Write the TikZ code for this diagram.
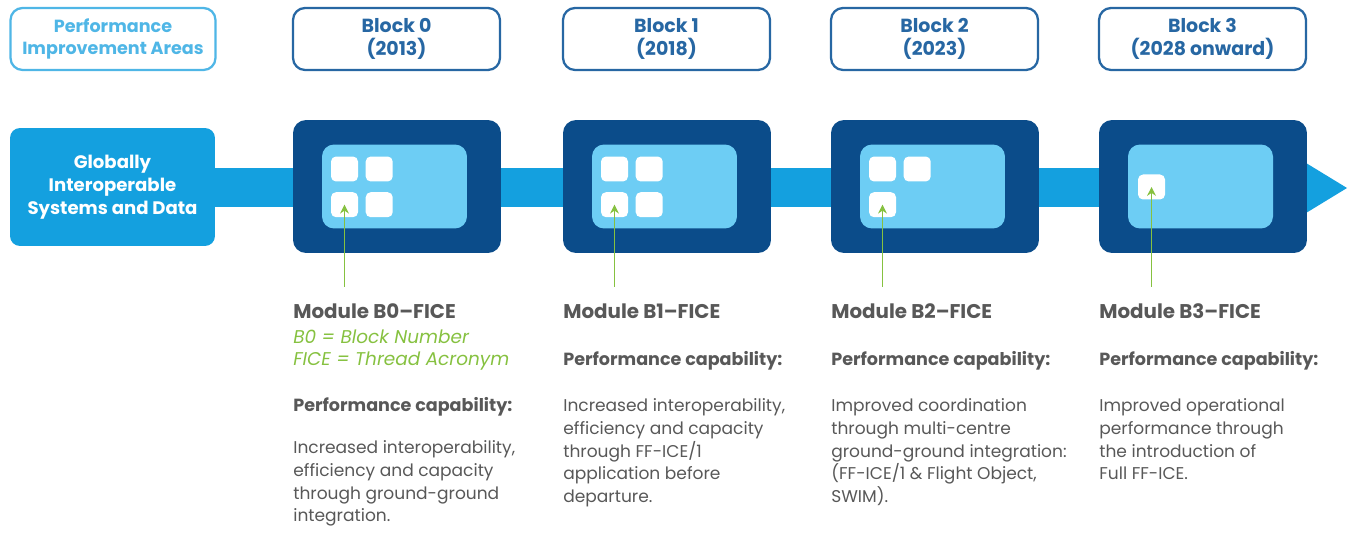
\documentclass[tikz,border=0pt]{standalone}
\usepackage{fontspec}
\setmainfont{Poppins}
\usetikzlibrary{arrows.meta,positioning,calc}

\definecolor{navyblk}{HTML}{0B4C8A}
\definecolor{bandblue}{HTML}{14A0DF}
\definecolor{skyblue}{HTML}{6DCDF4}
\definecolor{paleline}{HTML}{4FB6E6}
\definecolor{blkline}{HTML}{2767A3}
\definecolor{leaf}{HTML}{86C140}
\definecolor{inkgray}{HTML}{585858}

\begin{document}
\begin{tikzpicture}[x=0.02cm,y=-0.02cm]
\tikzset{
     areabox/.style={draw=paleline, line width=1.3pt, rounded corners=0.24cm,
        minimum width=4.1cm, minimum height=1.24cm, align=center, text=paleline,
        font=\bfseries\fontsize{10}{13}\selectfont},
     yearbox/.style={areabox, draw=blkline, text=blkline, minimum width=4.14cm,
        font=\bfseries\fontsize{10.8}{13}\selectfont},
     sysbox/.style={fill=bandblue, rounded corners=0.2cm, minimum width=4.1cm,
        minimum height=2.36cm, align=center, text=white,
        font=\bfseries\fontsize{10.3}{13.2}\selectfont},
     darkbox/.style={fill=navyblk, rounded corners=0.26cm, minimum width=4.16cm,
        minimum height=2.66cm},
     innerbox/.style={fill=skyblue, rounded corners=0.24cm, minimum width=2.9cm,
        minimum height=1.68cm},
     cell/.style={fill=white, rounded corners=0.1cm, minimum width=0.54cm,
        minimum height=0.5cm, inner sep=0pt},
     modhead/.style={inner sep=0pt, anchor=base west, text=inkgray,
        font=\bfseries\fontsize{11.3}{13}\selectfont},
     perfcap/.style={modhead, font=\bfseries\fontsize{10}{13}\selectfont},
     modnote/.style={inner sep=0pt, anchor=north west, align=left, text=leaf,
        font=\itshape\fontsize{10.5}{13}\selectfont},
     modbody/.style={inner sep=0pt, anchor=north west, align=left, text=inkgray,
        font=\fontsize{9.7}{13}\selectfont},
     pointer/.style={draw=leaf, line width=0.9pt, -{Stealth[length=5pt,width=5pt]}}}

% The band with its arrow head
\fill[bandblue] (200,168) rectangle (1306,207);
\fill[bandblue] (1306,163) -- (1347,188) -- (1306,213) -- cycle;

% The header boxes
\node (area) [areabox] at (113,39) {Performance\\Improvement Areas};
\node (year0) [yearbox] at (396.5,39) {Block 0\\(2013)};
\node (year1) [yearbox] at (666.5,39) {Block 1\\(2018)};
\node (year2) [yearbox] at (934.5,39) {Block 2\\(2023)};
\node (year3) [yearbox] at (1202.5,39) {Block 3\\(2028 onward)};

\node (sys) [sysbox] at (112.5,187) {Globally\\Interoperable\\Systems and Data};

% The blocks
\foreach \i/\x in {0/293,1/563,2/831,3/1099}{
  \node (blk\i) [darkbox] at (\x+104,186.5) {};
  \node (in\i) [innerbox] at ([xshift=-0.05cm]blk\i.center) {};
}

% The cells
\node (c0a) [cell, below right=0.24cm and 0.18cm of in0.north west, anchor=north west] {};
\node (c0b) [cell, right=0.14cm of c0a] {};
\node (c0c) [cell, below=0.2cm of c0a] {};
\node (c0d) [cell, right=0.14cm of c0c] {};

\node (c1a) [cell, below right=0.24cm and 0.18cm of in1.north west, anchor=north west] {};
\node (c1b) [cell, right=0.14cm of c1a] {};
\node (c1c) [cell, below=0.2cm of c1a] {};
\node (c1d) [cell, right=0.14cm of c1c] {};

\node (c2a) [cell, below right=0.24cm and 0.18cm of in2.north west, anchor=north west] {};
\node (c2b) [cell, right=0.14cm of c2a] {};
\node (c2c) [cell, below=0.2cm of c2a] {};

\node (c3a) [cell, below right=0.6cm and 0.2cm of in3.north west, anchor=north west] {};

% The module texts
\node (m0) [modhead] at (293,319) {Module B0–FICE};
\node (n0) [modnote] at (293,329) {B0 = Block Number\\FICE = Thread Acronym};
\node (p0) [perfcap] at (293,412) {Performance capability:};
\node (b0) [modbody] at (293,440) {Increased interoperability,\\efficiency and capacity\\through ground-ground\\integration.};

\node (m1) [modhead] at (563,319) {Module B1–FICE};
\node (p1) [perfcap] at (563,366) {Performance capability:};
\node (b1) [modbody] at (563,398) {Increased interoperability,\\efficiency and capacity\\through FF-ICE/1\\application before\\departure.};

\node (m2) [modhead] at (831,319) {Module B2–FICE};
\node (p2) [perfcap] at (831,366) {Performance capability:};
\node (b2) [modbody] at (831,398) {Improved coordination\\through multi-centre\\ground-ground integration:\\(FF-ICE/1 \& Flight Object,\\SWIM).};

\node (m3) [modhead] at (1099,319) {Module B3–FICE};
\node (p3) [perfcap] at (1099,366) {Performance capability:};
\node (b3) [modbody] at (1099,398) {Improved operational\\performance through\\the introduction of\\Full FF-ICE.};

% The pointers
\coordinate (t0) at (c0c |- 0,287);
\coordinate (t1) at (c1c |- 0,287);
\coordinate (t2) at (c2c |- 0,287);
\coordinate (t3) at (c3a |- 0,287);
\draw [pointer] (t0) -- (c0c.center);
\draw [pointer] (t1) -- (c1c.center);
\draw [pointer] (t2) -- (c2c.center);
\draw [pointer] (t3) -- (c3a.center);

\useasboundingbox (0,0) rectangle (1352,533);
\end{tikzpicture}
\end{document}
